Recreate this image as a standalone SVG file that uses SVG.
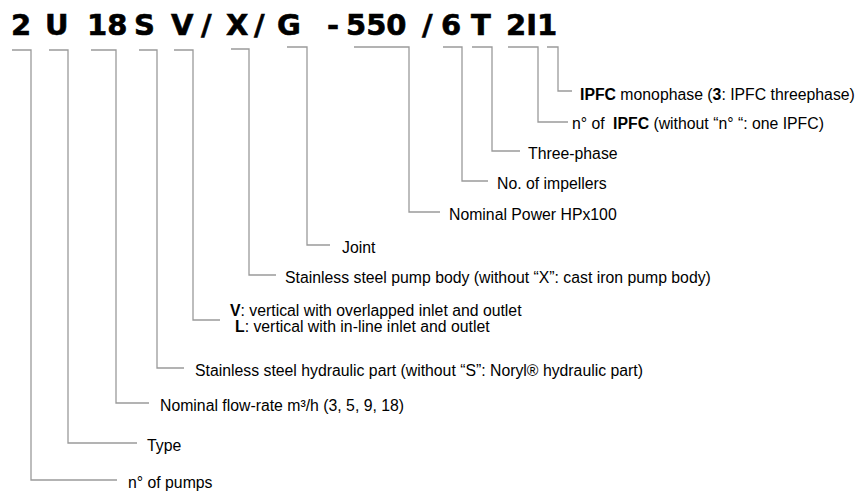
<svg xmlns="http://www.w3.org/2000/svg" width="861" height="491" viewBox="0 0 861 491">
<style>
.code{font-family:"DejaVu Sans","Liberation Sans",sans-serif;font-weight:bold;font-size:29px;fill:#000;stroke:#000;stroke-width:0.6}
.lbl{font-family:"Liberation Sans",Arial,sans-serif;font-size:15.8px;fill:#000}
.b{font-weight:bold}
.ln{fill:none;stroke:#9a9a9a;stroke-width:1.3}
</style>
<rect width="861" height="491" fill="#fff"/>
<g id="code">
<text class="code" y="35">
<tspan x="11">2</tspan><tspan x="45">U</tspan><tspan x="87">18</tspan><tspan x="134">S</tspan><tspan x="171">V</tspan><tspan x="201">/</tspan><tspan x="226">X</tspan><tspan x="254">/</tspan><tspan x="277">G</tspan><tspan x="327">-</tspan><tspan x="346">550</tspan><tspan x="422">/</tspan><tspan x="441">6</tspan><tspan x="471">T</tspan><tspan x="506">2I1</tspan>
</text>
</g>
<g id="connectors">
<polyline class="ln" points="12,50 31,50 31,480 117,480"/>
<polyline class="ln" points="49,50 68,50 68,443 137,443"/>
<polyline class="ln" points="91,50 116,50 116,403 149,403"/>
<polyline class="ln" points="139,50 157,50 157,368 184,368"/>
<polyline class="ln" points="174,50 193,50 193,320 220,320"/>
<polyline class="ln" points="231,49 249,49 249,275 276,275"/>
<polyline class="ln" points="287,47 307,47 307,245 330,245"/>
<polyline class="ln" points="354,47 409,47 409,212 440,212"/>
<polyline class="ln" points="443,47 462,47 462,181 488,181"/>
<polyline class="ln" points="472,47 492,47 492,151 520,151"/>
<polyline class="ln" points="508,47 538,47 538,122 568,122"/>
<polyline class="ln" points="547,47 558,47 558,91 572,91"/>
</g>
<g id="n-ipfc-phase"><text class="lbl" x="580" y="100"><tspan class="b">IPFC</tspan> monophase (<tspan class="b">3</tspan>: IPFC threephase)</text></g>
<g id="n-ipfc-count"><text class="lbl" x="572" y="129">n° of <tspan class="b" dx="4">IPFC</tspan> (without “n° “: one IPFC)</text></g>
<g id="n-three-phase"><text class="lbl" x="528" y="159">Three-phase</text></g>
<g id="n-impellers"><text class="lbl" x="497" y="189">No. of impellers</text></g>
<g id="n-power"><text class="lbl" x="449" y="220">Nominal Power HPx100</text></g>
<g id="n-joint"><text class="lbl" x="342" y="253">Joint</text></g>
<g id="n-body"><text class="lbl" x="285" y="283">Stainless steel pump body (without “X”: cast iron pump body)</text></g>
<g id="n-vertical">
<text class="lbl" x="230" y="316"><tspan class="b">V</tspan>: vertical with overlapped inlet and outlet</text>
<text class="lbl" x="235" y="332"><tspan class="b">L</tspan>: vertical with in-line inlet and outlet</text>
</g>
<g id="n-hydraulic"><text class="lbl" x="195" y="376">Stainless steel hydraulic part (without “S”: Noryl® hydraulic part)</text></g>
<g id="n-flow"><text class="lbl" x="160" y="411">Nominal flow-rate m³/h (3, 5, 9, 18)</text></g>
<g id="n-type"><text class="lbl" x="147" y="451">Type</text></g>
<g id="n-pumps"><text class="lbl" x="128" y="488">n° of pumps</text></g>
</svg>
